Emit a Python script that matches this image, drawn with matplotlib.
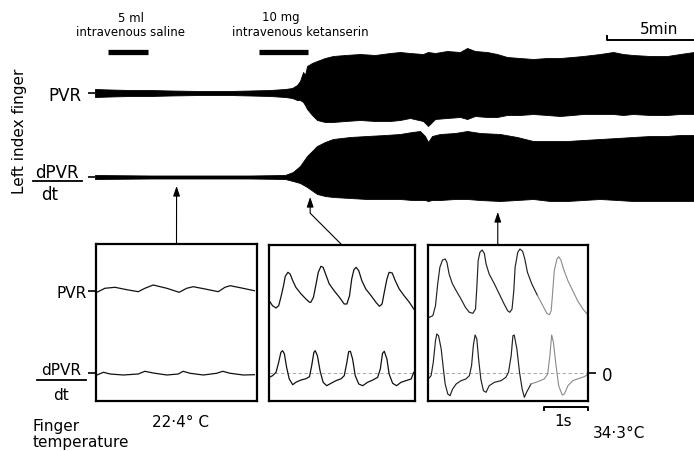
import numpy as np
import matplotlib.pyplot as plt

plt.rcParams['font.family'] = ['DejaVu Sans']

# slow recording: envelope of the black band, time in min, amplitude in chart units
pvr_t = [0.00, 0.87, 2.03, 3.20, 4.36, 6.10, 7.84, 9.01, 10.17, 11.04, 11.45, 11.74,
         11.91, 12.09, 12.20, 12.32, 12.61, 12.90, 13.36, 13.83, 14.53, 15.40, 16.27,
         17.14, 17.72, 18.30, 19.06, 19.35, 19.76, 20.45, 21.21, 21.62, 22.08, 22.78,
         23.36, 23.94, 24.69, 25.45, 26.26, 27.02, 27.72, 28.35, 29.34, 30.10, 30.68,
         31.26, 32.25, 33.24, 33.99, 34.80]
pvr_top = [4, 3.5, 3, 3, 2.5, 2, 2, 2.5, 3, 4, 5, 8, 12, 21, 18, 27, 30, 32, 35, 37,
           38, 39, 38, 40, 41, 40, 39, 41, 40, 42, 41, 45, 42, 41, 39, 36, 35, 34, 35,
           35, 36, 37, 39, 41, 39, 38, 37, 37, 39, 41]
pvr_bot = [-4, -3.5, -3, -3, -2.5, -2, -2, -2.5, -3, -4, -5, -7, -7, -9, -12, -16,
           -22, -27, -29, -29, -28, -27, -28, -28, -27, -25, -28, -33, -26, -25, -24,
           -26, -23, -24, -24, -22, -22, -21, -22, -23, -22, -21, -21, -21, -22, -21,
           -22, -22, -21, -21]

dpvr_t = [0.00, 3.20, 6.10, 9.01, 11.04, 11.50, 11.91, 12.32, 12.90, 13.36, 13.83,
          14.82, 15.80, 16.85, 17.72, 18.42, 18.88, 19.17, 19.35, 19.58, 20.05, 20.92,
          21.62, 22.37, 23.53, 24.52, 25.45, 26.44, 27.43, 28.36, 29.34, 30.33, 31.26,
          32.25, 33.24, 33.99, 34.80]
dpvr_top = [2, 1.5, 1.5, 1.5, 2, 5, 11, 21, 31, 35, 38, 40, 41, 42, 43, 45, 46, 41,
            35, 41, 43, 44, 46, 44, 43, 40, 36, 36, 36, 37, 38, 39, 40, 41, 41, 42, 42]
dpvr_bot = [-2, -1.5, -1.5, -1.5, -2, -4, -6, -10, -17, -19, -20, -21, -22, -22, -22,
            -23, -23, -23, -24, -23, -23, -22, -22, -23, -24, -23, -22, -24, -24, -23,
            -22, -23, -24, -24, -24, -24, -24]
DPVR_BASE = -84

saline_min = [0.75, 3.1]
ketanserin_min = [9.5, 12.4]
sample_min = [4.74, 12.5, 23.4]

# expanded traces, time in s
p1_pvr_t = [0.02, 0.20, 0.43, 0.70, 0.96, 1.11, 1.30, 1.61, 1.89, 2.06, 2.21, 2.48,
            2.78, 2.93, 3.05, 3.31, 3.60]
p1_pvr = [80.7, 84.7, 85.7, 83.3, 81.3, 84.7, 88, 84.7, 80.7, 84.7, 86.3, 84, 81.3,
          85.7, 87.3, 85, 82.3]
p1_dpvr_t = [0.02, 0.17, 0.32, 0.62, 0.96, 1.11, 1.30, 1.61, 1.87, 1.98, 2.14, 2.44,
             2.74, 2.88, 3.05, 3.35, 3.60]
p1_dpvr = [-2, 0.7, -1, -2, -1, 1.7, 0, -2, -1, 1.7, -0.3, -2, -0.3, 1.7, -0.3, -2, -1.7]

p2_pvr_t = [0.02, 0.08, 0.16, 0.22, 0.27, 0.33, 0.37, 0.43, 0.48, 0.54, 0.61, 0.73,
            0.84, 0.92, 0.95, 1.01, 1.07, 1.12, 1.18, 1.23, 1.30, 1.37, 1.48, 1.60,
            1.71, 1.77, 1.83, 1.88, 1.93, 1.98, 2.04, 2.11, 2.20, 2.32, 2.43, 2.51,
            2.57, 2.62, 2.68, 2.73, 2.80, 2.87, 2.96, 3.07, 3.19, 3.29]
p2_pvr = [71.3, 67.3, 65, 67.3, 75.7, 87.3, 96.7, 100.7, 99, 92.3, 85.7, 79, 74, 70.7,
          70.7, 75.7, 89, 100.7, 106.7, 105.7, 97.3, 89, 82.3, 75.7, 69, 69, 77.3, 94,
          103.3, 105.7, 102.3, 92.3, 84, 77.3, 70.7, 66.7, 69, 80.7, 94, 100.7, 100,
          92.3, 84, 77.3, 70.7, 64]
p2_dpvr_t = [0.01, 0.08, 0.16, 0.22, 0.27, 0.31, 0.35, 0.40, 0.46, 0.54, 0.61, 0.73,
             0.84, 0.92, 0.97, 1.02, 1.05, 1.10, 1.16, 1.23, 1.31, 1.41, 1.52, 1.64,
             1.71, 1.77, 1.81, 1.85, 1.90, 1.96, 2.04, 2.13, 2.24, 2.36, 2.47, 2.53,
             2.58, 2.62, 2.68, 2.73, 2.81, 2.90, 3.00, 3.11, 3.23, 3.29]
p2_dpvr = [-4.3, -2.7, 0.7, 10.7, 20.7, 22.3, 19, 5.7, -6, -11.7, -9.3, -7, -5.7,
           -3.7, 7.3, 20.7, 22.3, 17.3, 2.3, -9.3, -12.7, -10.3, -7.7, -5.7, -2.7,
           10.7, 21.3, 21.7, 14, -2.7, -11, -12.7, -9.3, -7, -4.3, 4, 19.7, 21.7, 14,
           -1, -10.3, -12.7, -9.3, -7.7, -6, 0.7]

p3_pvr_t = [0.03, 0.11, 0.17, 0.22, 0.27, 0.33, 0.39, 0.43, 0.48, 0.55, 0.64, 0.75,
            0.85, 0.94, 1.02, 1.08, 1.11, 1.14, 1.18, 1.23, 1.28, 1.32, 1.39, 1.51,
            1.62, 1.73, 1.81, 1.86, 1.91, 1.95, 1.98, 2.04, 2.09, 2.15, 2.20, 2.26,
            2.36, 2.49, 2.61, 2.70, 2.76, 2.80, 2.83, 2.87, 2.93, 2.97, 3.02, 3.08,
            3.18, 3.29, 3.40, 3.52, 3.63]
p3_pvr = [55.7, 57.3, 67.3, 89, 105.7, 113, 114, 110.7, 99, 89.7, 82.3, 74, 65.7,
          60.7, 59.7, 64, 85.7, 112.3, 120.7, 123, 119.7, 109, 99, 89, 79, 69, 62.3,
          60.7, 64, 82.3, 105.7, 120.7, 124, 121.7, 114, 100.7, 89, 77.3, 67.3, 59.7,
          58.3, 62.3, 79, 102.3, 114, 116.3, 113, 104, 92.3, 82.3, 72.3, 64, 58.3]
p3_dpvr_t = [0.02, 0.07, 0.12, 0.17, 0.20, 0.24, 0.30, 0.35, 0.39, 0.45, 0.50, 0.56,
             0.64, 0.75, 0.86, 0.94, 0.99, 1.03, 1.07, 1.11, 1.15, 1.20, 1.26, 1.32,
             1.39, 1.51, 1.66, 1.77, 1.83, 1.89, 1.93, 1.96, 2.02, 2.08, 2.14, 2.19,
             2.24, 2.34, 2.49, 2.64, 2.72, 2.77, 2.81, 2.85, 2.91, 2.97, 3.05, 3.10,
             3.18, 3.29, 3.44, 3.55, 3.65]
p3_dpvr = [-5.3, -2.7, 10.7, 32.3, 39, 37.3, 24, 4, -11, -21, -22.7, -16, -11, -7.7,
           -6, -2.7, 7.3, 27.3, 38, 34, 14, -6, -17.7, -19.3, -12.7, -9.3, -7.7, -4.3,
           0.7, 17.3, 37.3, 38, 24, 0.7, -16, -24.3, -19.3, -11, -8.7, -6, -1, 17.3,
           38, 30.7, 7.3, -12.7, -22, -21, -12.7, -7.7, -5.3, -3.7, -1]
p3_fade = [2.49, 2.34]  # the pen fades towards the end of the strip


W, H = 694, 452
fig = plt.figure(figsize=(W / 100, H / 100), dpi=100)


def box(l, t, r, b):
    return [l / W, 1 - b / H, (r - l) / W, (b - t) / H]


# slow recording
rec = fig.add_axes(box(95, 30, 694, 215))
rec.patch.set_visible(False)
rec.set_xlim(0, 34.8)
rec.set_ylim(-121, 64)
rec.fill_between(pvr_t, pvr_bot, pvr_top, color='black', lw=0.6)
rec.fill_between(dpvr_t, DPVR_BASE + np.array(dpvr_bot), DPVR_BASE + np.array(dpvr_top),
                 color='black', lw=0.6)
for s in rec.spines.values():
    s.set_visible(False)
rec.set_xticks([])
rec.set_yticks([0, DPVR_BASE], ['PVR', ''])
rec.tick_params(axis='y', length=5, width=1.2, pad=5, labelsize=12)
rec.plot(saline_min, [41, 41], color='black', lw=3.8, solid_capstyle='butt')
rec.plot(ketanserin_min, [41, 41], color='black', lw=3.8, solid_capstyle='butt')
# 5 min scale bar
rec.plot([34.77 - 5, 34.77 - 5, 34.77], [57, 53, 53], color='black', lw=1.4, clip_on=False)

# expanded panels
boxes = [(96, 245, 257, 402), (269, 246, 415, 402), (428, 246, 588, 402)]
traces = [(p1_pvr_t, p1_pvr, p1_dpvr_t, p1_dpvr),
          (p2_pvr_t, p2_pvr, p2_dpvr_t, p2_dpvr),
          (p3_pvr_t, p3_pvr, p3_dpvr_t, p3_dpvr)]
panels = []
for i, ((l, t, r, b), (pt, pv, dt, dv)) in enumerate(zip(boxes, traces)):
    ax = fig.add_axes(box(l, t, r, b))
    ax.patch.set_visible(False)
    ax.set_xlim(0, (r - l) / 44)
    ax.set_ylim(374 - b, 374 - t)
    for s in ax.spines.values():
        s.set_linewidth(1.6)
    ax.set_xticks([])
    ax.set_yticks([])
    if i > 0:
        ax.axhline(0, color='#999999', lw=0.6, ls=(0, (4, 3)))
    if i < 2:
        ax.plot(pt, pv, color='#111111', lw=0.9)
        ax.plot(dt, dv, color='#111111', lw=0.9)
    else:
        pt, pv, dt, dv = map(np.array, (pt, pv, dt, dv))
        for tt, vv, cut in [(pt, pv, p3_fade[0]), (dt, dv, p3_fade[1])]:
            m = tt <= cut
            ax.plot(tt[m], vv[m], color='#222222', lw=0.85)
            k = np.argmax(tt >= cut)
            ax.plot(tt[k:], vv[k:], color='#8a8a8a', lw=0.8)
    panels.append(ax)

p1, p2, p3 = panels
p1.set_yticks([82, 0], ['PVR', ''])
p1.tick_params(axis='y', length=6, width=1.2, pad=1, labelsize=11)
p3.yaxis.tick_right()
p3.set_yticks([0], ['0'])
p3.tick_params(axis='y', length=6, width=1.2, pad=4, labelsize=12)
# 1 s scale bar
x1 = p3.get_xlim()[1]
p3.plot([x1 - 1, x1 - 1, x1, x1], [-37, -34, -34, -37], color='black', lw=1.4, clip_on=False)

# arrows from the expanded panels to the recording
arrow_tip_v = [-93, -104, -119]
arrow_from_x = [0.5, 0.5, 0.436]
styles = ['arc3', 'angle,angleA=135,angleB=90,rad=0', 'arc3']
for ax, tm, tv, fx, cs in zip(panels, sample_min, arrow_tip_v, arrow_from_x, styles):
    rec.annotate('', xy=(tm, tv), xycoords='data', xytext=(fx, 1.0), textcoords=ax.transAxes,
                 arrowprops=dict(arrowstyle='-|>,head_length=0.5,head_width=0.17',
                                 color='black', lw=0.8, shrinkA=0, shrinkB=0,
                                 mutation_scale=12, connectionstyle=cs),
                 annotation_clip=False)

# labels
ov = fig.add_axes([0, 0, 1, 1])
ov.set_xlim(0, W)
ov.set_ylim(H, 0)
ov.axis('off')
ov.text(20, 131, 'Left index finger', rotation=90, ha='center', va='center', fontsize=11)
ov.text(131, 18, '5 ml', ha='center', va='center', fontsize=8.5)
ov.text(131, 33, 'intravenous saline', ha='center', va='center', fontsize=8.5)
ov.text(281, 18, '10 mg', ha='center', va='center', fontsize=8.5)
ov.text(300, 33, 'intravenous ketanserin', ha='center', va='center', fontsize=8.5)
ov.text(659, 30, '5min', ha='center', va='center', fontsize=11)

ov.text(57, 173, 'dPVR', ha='center', va='center', fontsize=12)
ov.plot([33, 82], [182, 182], color='black', lw=1.3)
ov.text(50, 195, 'dt', ha='center', va='center', fontsize=12)

ov.text(61, 371, 'dPVR', ha='center', va='center', fontsize=11)
ov.plot([37, 86], [381, 381], color='black', lw=1.3)
ov.text(61, 396, 'dt', ha='center', va='center', fontsize=11)

ov.text(33, 427, 'Finger', ha='left', va='center', fontsize=11)
ov.text(33, 443, 'temperature', ha='left', va='center', fontsize=11)
ov.text(152, 423, '22\u00b74\u00b0 C', ha='left', va='center', fontsize=11)
ov.text(563, 422, '1s', ha='center', va='center', fontsize=11)
ov.text(593, 434, '34\u00b73\u00b0C', ha='left', va='center', fontsize=11)

fig.savefig('out.png', dpi=100)
